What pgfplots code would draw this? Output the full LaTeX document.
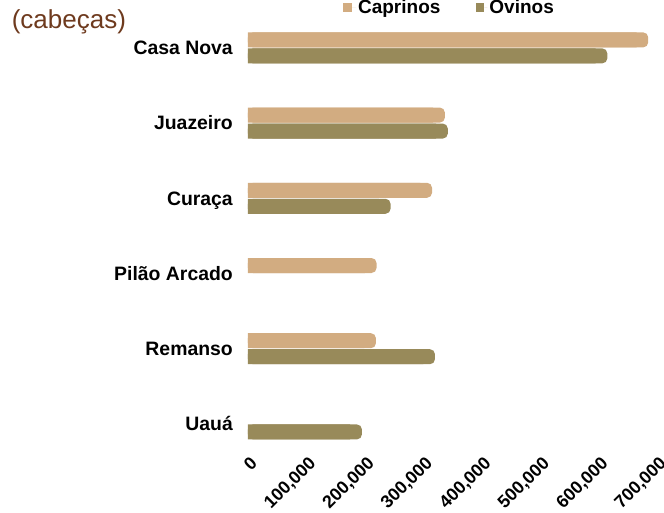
\documentclass[border=0pt]{standalone}
\usepackage{fontspec}
\setmainfont{Liberation Sans}
\usepackage{pgfplots}
\usepackage{pgfplotstable}
\pgfplotsset{compat=1.18}
\definecolor{capr}{RGB}{210,172,129}
\definecolor{ovin}{RGB}{152,138,90}
\definecolor{brownlab}{RGB}{110,58,30}
% Caprinos (Uauá has no bar)
\pgfplotstableread{
pos val
5 685000
4 337000
3 315000
2 220000
1 219000
}\capdata
% Ovinos (Pilão Arcado has no bar)
\pgfplotstableread{
pos val
5 615000
4 342000
3 244000
1 320000
0 195000
}\ovdata
\begin{document}
\begin{tikzpicture}
\path[use as bounding box] (-248pt,-59pt) rectangle (416pt,454pt);
\begin{axis}[
  scale only axis, width=409pt, height=436.2pt,
  xmin=0, xmax=700000, ymin=-0.4, ymax=5.4,
  clip mode=individual,
  axis line style={draw=none}, major tick length=0pt, tick style={draw=none},
  ytick={0,1,2,3,4,5},
  yticklabels={Uauá, Remanso, Pilão Arcado, Curaça, Juazeiro, Casa Nova},
  yticklabel style={anchor=east, inner sep=0pt, xshift=-15pt, text height=13.8pt, text depth=0pt, font=\fontsize{19.4}{21}\selectfont\bfseries},
  xtick={0,100000,200000,300000,400000,500000,600000,700000},
  scaled x ticks=false,
  /pgf/number format/.cd, fixed, 1000 sep={,}, assume math mode=true, /pgfplots/.cd,
  xticklabel style={rotate=45, anchor=north east, inner sep=0pt, xshift=0pt, yshift=-2pt, font=\fontsize{17.8}{20}\selectfont\bfseries},
  legend columns=2,
  legend cell align=left,
  legend style={draw=none, fill=none, inner sep=0pt, at={(rel axis cs:0.232,1.023)}, anchor=west,
    font=\fontsize{19}{21}\selectfont\bfseries,
    /tikz/every even column/.append style={column sep=34pt}},
]
\addplot[xbar, bar width=15pt, bar shift=8pt, fill=capr, draw=none, rounded corners=5pt,
  legend image code/.code={\fill[capr, sharp corners] (0pt,-4.5pt) rectangle (9pt,4.5pt); \path (9pt,0pt) -- (13pt,0pt);}] table[x=val, y=pos] {\capdata};
\addlegendentry{Caprinos}
\addplot[xbar, bar width=15pt, bar shift=-8pt, fill=ovin, draw=none, rounded corners=5pt,
  legend image code/.code={\fill[ovin, sharp corners] (0pt,-4.5pt) rectangle (8pt,4.5pt); \path (8pt,0pt) -- (11pt,0pt);}] table[x=val, y=pos] {\ovdata};
\addlegendentry{Ovinos}
\addplot[forget plot, xbar, bar width=15pt, bar shift=8pt, fill=capr, draw=none] table[x expr=\thisrow{val}-20000, y=pos] {\capdata};
\addplot[forget plot, xbar, bar width=15pt, bar shift=-8pt, fill=ovin, draw=none] table[x expr=\thisrow{val}-20000, y=pos] {\ovdata};
\node[anchor=west, inner sep=0pt, text=brownlab, font=\fontsize{26}{29}\selectfont] at (rel axis cs:-0.578,0.99) {(cabeças)};
\end{axis}
\end{tikzpicture}
\end{document}
